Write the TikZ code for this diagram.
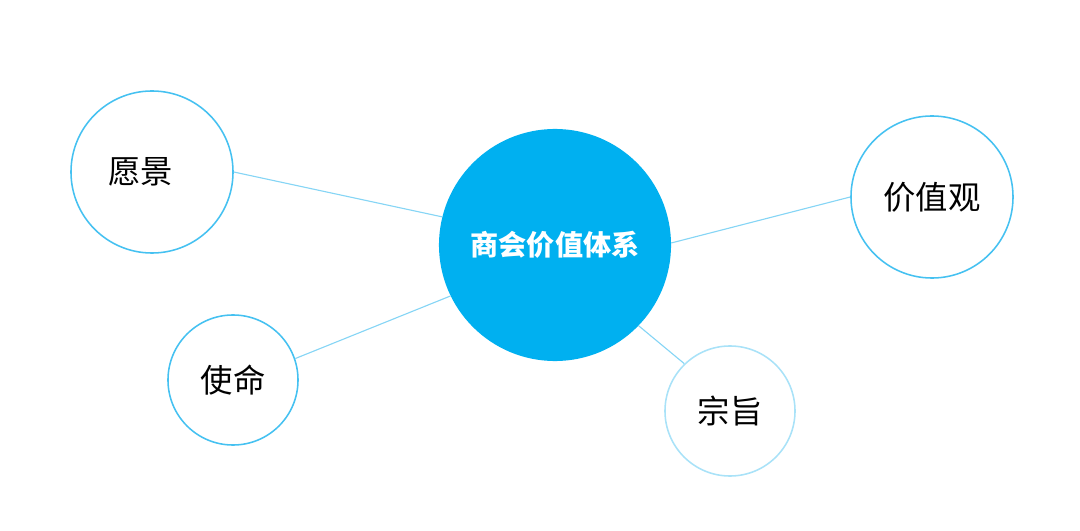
\documentclass[tikz,border=0pt]{standalone}
\usepackage{fontspec}
\newfontfamily\cjk{Noto Sans CJK SC}
\definecolor{hubblue}{HTML}{00B0F0}
\definecolor{ringblue}{HTML}{45C1F1}
\definecolor{paleblue}{HTML}{A9E2F8}
\definecolor{linkblue}{HTML}{86D5F5}
\tikzset{
  hub/.style={circle, fill=hubblue, minimum size=5.8cm, inner sep=0pt,
    text=white, font=\cjk\bfseries\fontsize{20pt}{20pt}\selectfont},
  ring/.style={circle, draw=ringblue, line width=1.1pt, fill=white, inner sep=0pt,
    font=\cjk\fontsize{23pt}{23pt}\selectfont},
  link/.style={draw=linkblue, line width=0.8pt}
}
\begin{document}
\begin{tikzpicture}[x=0.025cm, y=-0.025cm]
\useasboundingbox (0,0) rectangle (1080,531);
\node[hub] (system) at (555,245) {商会价值体系};
\node[ring, minimum size=4.05cm] (vision) at (152,172) {愿景\kern0.55cm};
\node[ring, minimum size=4.05cm] (values) at (932,197) {价值观};
\node[ring, minimum size=3.25cm] (mission) at (233,380) {使命};
\node[ring, draw=paleblue, minimum size=3.25cm] (purpose) at (730,411) {宗旨};
\path[link] (vision.0) -- (system.166);
\path[link] (values.180) -- (system.1);
\path[link] (mission.19) -- (system.206);
\path[link] (purpose.134) -- (system.-44);
\end{tikzpicture}
\end{document}
